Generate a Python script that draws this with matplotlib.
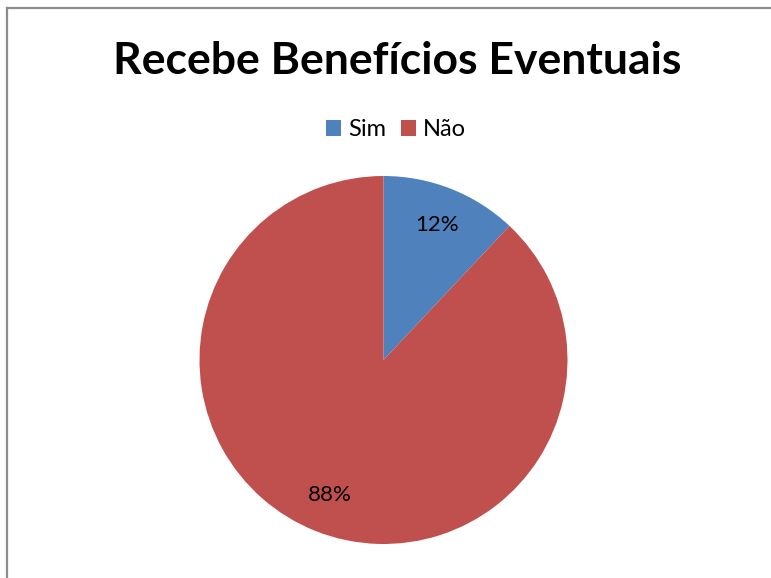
import matplotlib
matplotlib.use("Agg")
import matplotlib.pyplot as plt
from matplotlib.lines import Line2D

categories = ["Sim", "Não"]
shares = [12, 88]
colors = ["#4F81BD", "#C0504D"]
title = "Recebe Benefícios Eventuais"

W, H = 771, 578
fig = plt.figure(figsize=(W / 100, H / 100), dpi=100)
fig.patch.set_facecolor("white")

# chart frame (left and top edges visible)
fx = 7 / W
fy = 1 - 7.5 / H
fig.add_artist(Line2D([fx, fx], [0, fy], transform=fig.transFigure, color="#8c8c8c", lw=1.6))
fig.add_artist(Line2D([fx, 1], [fy, fy], transform=fig.transFigure, color="#8c8c8c", lw=1.6))

cx, cy, r = 383.5, 360, 184
ax = fig.add_axes([(cx - r) / W, (H - cy - r) / H, 2 * r / W, 2 * r / H])
wedges, texts, autotexts = ax.pie(
    shares, colors=colors, startangle=90, counterclock=False,
    autopct="%d%%", pctdistance=0.79, radius=1.0,
    wedgeprops=dict(linewidth=0),
    textprops=dict(fontsize=16, family="Lato", color="black"),
)
ax.set_xlim(-1, 1)
ax.set_ylim(-1, 1)
ax.set_aspect("equal")
ax.axis("off")

fig.text(397 / W, 1 - 61 / H, title, ha="center", va="center",
         fontsize=32, fontweight="bold", family="Lato")

leg = fig.legend(wedges, categories, loc="center", bbox_to_anchor=(396 / W, 1 - 130 / H),
                 ncol=2, frameon=False, prop=dict(family="Lato", size=17),
                 handlelength=0.64, handleheight=0.68, handletextpad=0.3, columnspacing=0.6)

fig.savefig("out.png", dpi=100)
